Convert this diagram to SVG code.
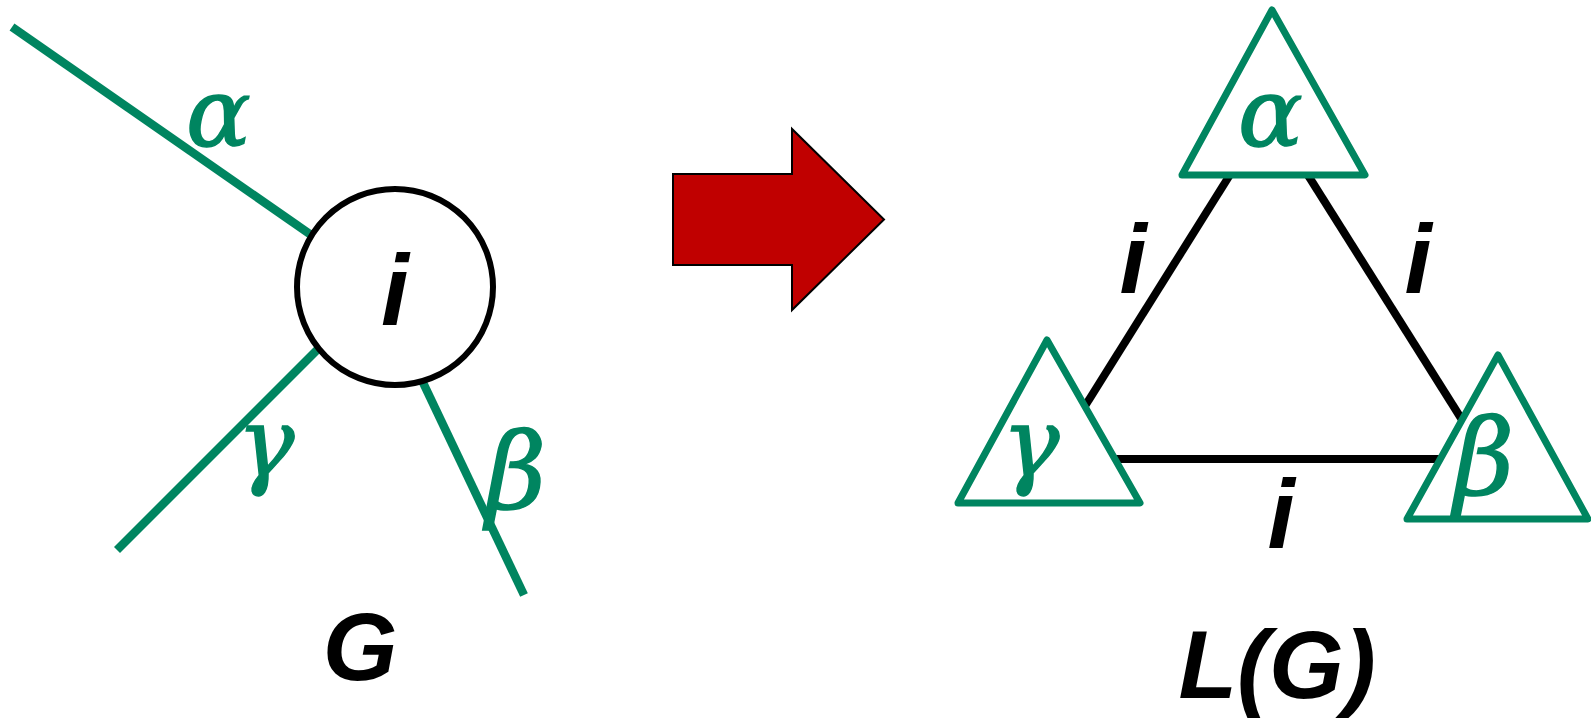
<svg xmlns="http://www.w3.org/2000/svg" width="1591" height="718" viewBox="0 0 1591 718">
<style>
.g{stroke:#008560;stroke-width:8.5;fill:none}
.k{stroke:#000;stroke-width:8;fill:none}
.tri{stroke:#008560;stroke-width:7;fill:#fff;stroke-linejoin:round}
.gr{font-family:"DejaVu Serif","Liberation Serif",serif;font-style:italic;fill:#008560;stroke:#008560;stroke-width:1.5}
.bi{font-family:"Liberation Sans",Arial,sans-serif;font-weight:bold;font-style:italic;fill:#000;text-anchor:middle}
</style>
<rect width="1591" height="718" fill="#fff"/>
<g id="connectors">
<line class="g" x1="12" y1="27" x2="350" y2="262"/>
<line class="g" x1="117" y1="550" x2="350" y2="317"/>
<line class="g" x1="524" y1="595" x2="398" y2="330"/>
<line class="k" x1="1243" y1="154" x2="1065" y2="438"/>
<line class="k" x1="1294" y1="153" x2="1476" y2="442"/>
<line class="k" x1="1085" y1="459" x2="1455" y2="459"/>
</g>
<g id="node-i">
<circle cx="395" cy="287" r="98" fill="#fff" stroke="#000" stroke-width="6"/>
<text class="bi" x="395" y="325" font-size="100">i</text>
</g>
<g id="edge-labels-G">
<text class="gr" x="186" y="146" font-size="96">α</text>
<text class="gr" x="237" y="476" font-size="96">γ</text>
<text class="gr" x="486" y="508" font-size="104">β</text>
</g>
<g id="label-G"><text class="bi" x="360" y="680" font-size="96">G</text></g>
<g id="arrow">
<polygon points="673,174 792,174 792,129 884,219.5 792,310 792,265 673,265" fill="#c00000" stroke="#000" stroke-width="2"/>
</g>
<g id="node-alpha">
<polygon class="tri" points="1272,10 1365,175 1182,175"/>
<text class="gr" x="1238" y="146" font-size="96">α</text>
</g>
<g id="node-gamma">
<polygon class="tri" points="1047,340 1140,503 958,503"/>
<text class="gr" x="1002" y="476" font-size="96">γ</text>
</g>
<g id="node-beta">
<polygon class="tri" points="1498,355 1588,519 1407,519"/>
<text class="gr" x="1454" y="494" font-size="104">β</text>
</g>
<g id="edge-labels-LG">
<text class="bi" x="1133" y="293" font-size="98">i</text>
<text class="bi" x="1418" y="293" font-size="98">i</text>
<text class="bi" x="1281" y="548" font-size="98">i</text>
</g>
<g id="label-LG"><text class="bi" x="1277" y="698" font-size="96">L(G)</text></g>
</svg>
